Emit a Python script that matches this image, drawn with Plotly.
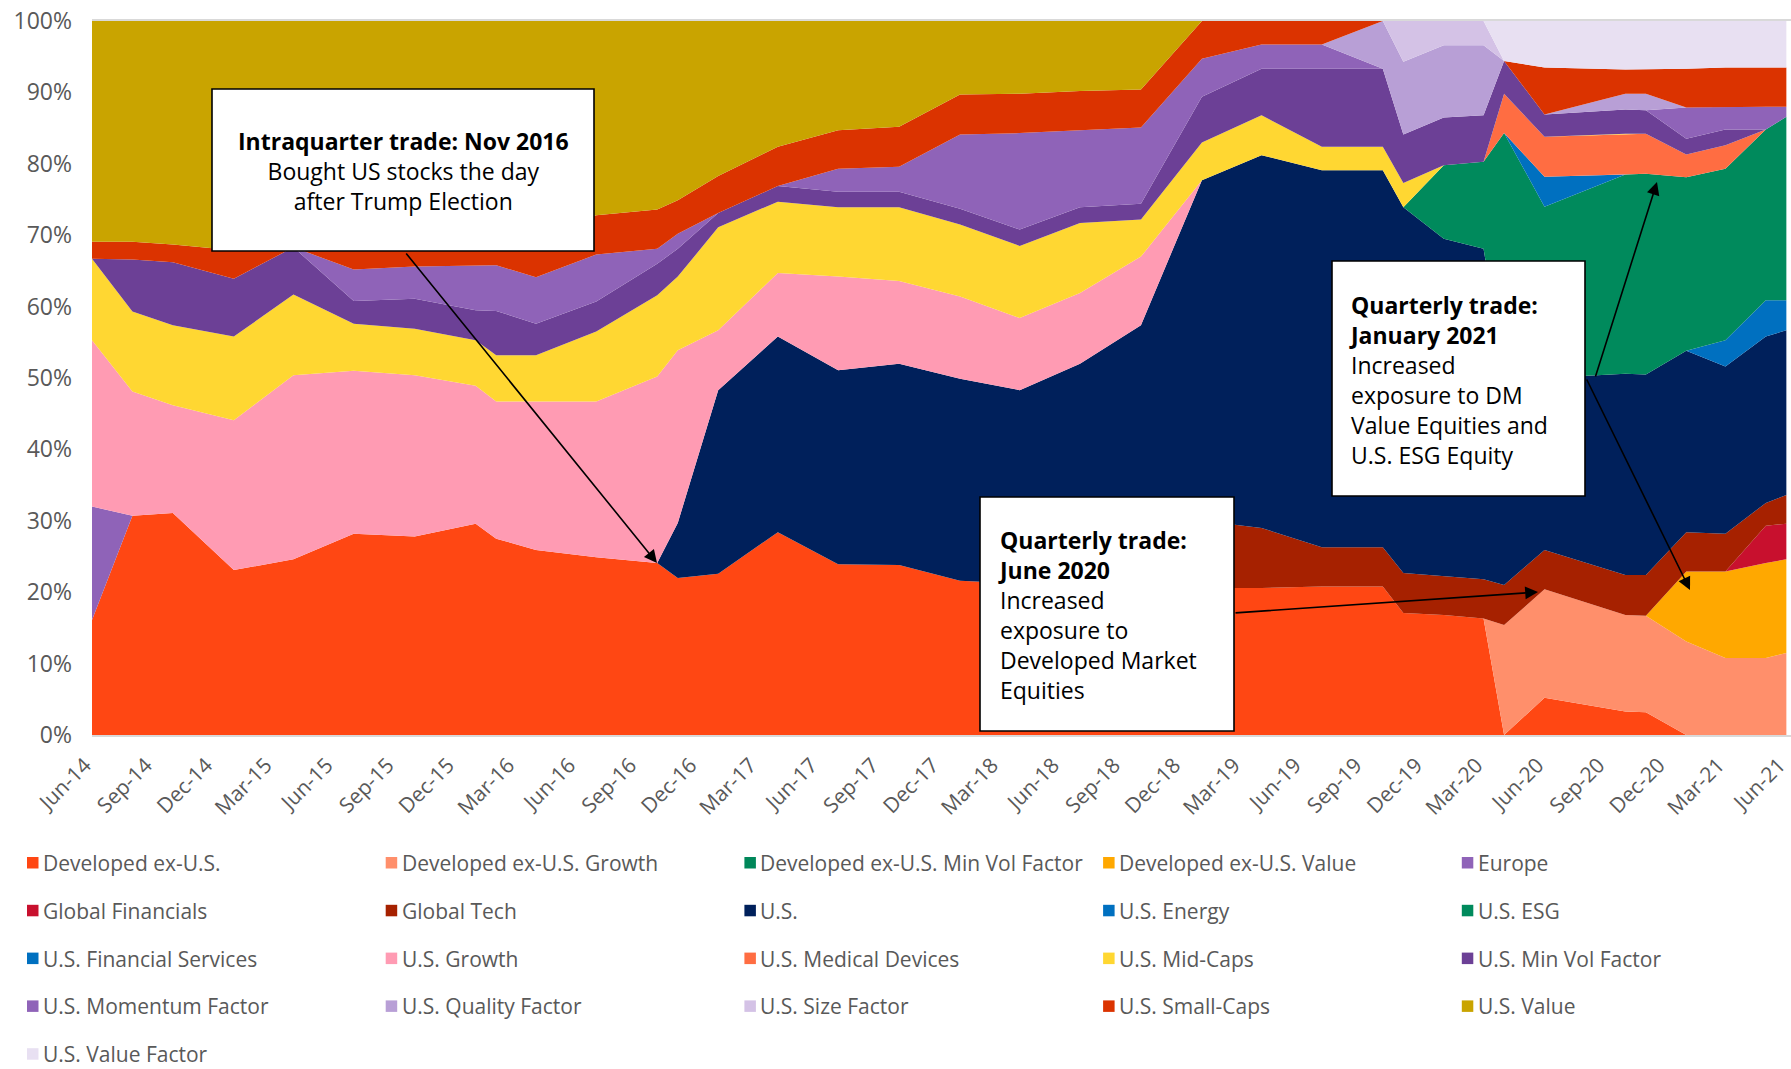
import plotly.graph_objects as go

# ---------------- data ----------------
DATES = [
    "2014-06-01", "2014-08-01", "2014-10-01", "2015-01-01", "2015-04-01", "2015-07-01",
    "2015-10-01", "2016-01-01", "2016-02-01", "2016-04-01", "2016-07-01", "2016-10-01",
    "2016-11-01", "2017-01-01", "2017-04-01", "2017-07-01", "2017-10-01", "2018-01-01",
    "2018-04-01", "2018-07-01", "2018-10-01", "2019-01-01", "2019-04-01", "2019-07-01",
    "2019-10-01", "2019-11-01", "2020-01-01", "2020-03-01", "2020-04-01", "2020-06-01",
    "2020-10-01", "2020-11-01", "2021-01-01", "2021-03-01", "2021-05-01", "2021-06-01",
]

developed_ex_us = [16.1, 30.7, 31.1, 23.1, 24.6, 28.2, 27.8, 29.6, 27.5, 25.9, 24.9, 24.1,
                   22.0, 22.6, 28.4, 23.9, 23.8, 21.6, 21.2, 21.0, 20.8, 20.6, 20.6, 20.8,
                   20.8, 17.1, 16.8, 16.3, 0, 5.2, 3.3, 3.2, 0, 0, 0, 0]
developed_ex_us_growth = [0] * 28 + [15.4, 15.2, 13.5, 13.5, 13.1, 10.8, 10.8, 11.5]
developed_ex_us_min_vol = [0] * 36
developed_ex_us_value = [0] * 32 + [9.8, 12.1, 13.3, 13.1]
europe = [15.9] + [0] * 35
global_financials = [0] * 34 + [5.2, 5.0]
global_tech = [0] * 21 + [9.4, 8.4, 5.5, 5.5, 5.6, 5.4, 5.5, 5.6, 5.5, 5.6, 5.7, 5.5, 5.3, 3.2, 4.0]
us = [0] * 12 + [7.7, 25.7, 27.4, 27.2, 28.2, 28.3, 27.1, 31.0, 36.6, 47.7, 52.2, 52.8,
                 52.8, 51.2, 47.3, 46.3, 30.0, 24.1, 28.2, 28.1, 25.4, 23.4, 23.3, 23.1]
us_energy = [0] * 33 + [3.7, 5.1, 4.2]
us_esg = [0] * 26 + [10.3, 12.2, 33.3, 24.0, 27.9, 28.1, 24.3, 24.0, 23.9, 25.7]
us_financial_services = [0] * 29 + [4.2] + [0] * 6
us_growth = [23.3, 17.4, 15.1, 21.0, 25.8, 22.8, 22.6, 19.3, 19.2, 20.8, 21.8, 26.1,
             24.2, 8.4, 8.9, 13.1, 11.6, 11.5, 10.1, 9.9, 9.6] + [0] * 15
us_medical_devices = [0] * 28 + [5.5, 5.6, 5.7, 5.6, 3.2, 3.3, 0, 0]
us_mid_caps = [11.4, 11.2, 11.2, 11.7, 11.3, 6.6, 6.5, 6.4, 6.5, 6.5, 9.8, 11.4,
               10.3, 14.4, 10.0, 9.7, 10.3, 10.1, 10.1, 9.8, 5.2, 5.3, 5.6, 3.3,
               3.3, 3.4] + [0] * 10
us_min_vol = [0, 7.3, 8.8, 8.1, 6.6, 3.2, 4.2, 4.2, 6.2, 4.4, 4.2, 4.4,
              3.9, 2.0, 2.2, 2.2, 2.2, 2.2, 2.3, 2.2, 2.2, 6.4, 6.5, 10.9,
              10.9, 6.8, 6.7, 6.5, 4.6, 3.1, 3.4, 3.3, 2.2, 2.2, 0, 0]
us_momentum = [0, 0, 0, 0, 0, 4.4, 4.5, 6.3, 6.4, 6.5, 6.6, 2.1,
               2.1, 0, 0, 3.2, 3.5, 10.4, 13.5, 10.8, 10.7, 5.3, 3.4, 3.4,
               0, 0, 0, 0, 0, 0, 0, 0, 4.4, 3.2, 3.2, 1.4]
us_quality = [0] * 24 + [6.7, 10.2, 10.1, 9.8, 0, 0, 2.2, 2.3, 0, 0, 0, 0]
us_size = [0] * 25 + [5.7, 3.4, 3.4] + [0] * 8
us_small_caps = [2.4, 2.5, 2.5, 4.0, 4.0, 5.5, 5.5, 5.5, 5.5, 5.5, 5.5, 5.5,
                 4.7, 5.2, 5.5, 5.4, 5.6, 5.6, 5.5, 5.5, 5.3, 5.3, 3.3, 3.3,
                 0, 0, 0, 0, 0, 6.6, 3.4, 3.4, 5.4, 5.5, 5.5, 5.5]
us_value = [30.9, 30.9, 31.3, 32.1, 27.7, 29.3, 28.9, 28.7, 28.7, 30.4, 27.2, 26.4,
            25.1, 21.7, 17.6, 15.3, 14.8, 10.3, 10.2, 9.8, 9.6] + [0] * 15
us_value_factor = [0] * 28 + [5.6, 6.5, 6.8, 6.8, 6.7, 6.5, 6.5, 6.5]

SERIES = [
    ("Developed ex-U.S.", developed_ex_us, "#FF4713"),
    ("Developed ex-U.S. Growth", developed_ex_us_growth, "#FF8F6B"),
    ("Developed ex-U.S. Min Vol Factor", developed_ex_us_min_vol, "#00875A"),
    ("Developed ex-U.S. Value", developed_ex_us_value, "#FFA800"),
    ("Europe", europe, "#8F63B8"),
    ("Global Financials", global_financials, "#C8102E"),
    ("Global Tech", global_tech, "#A62100"),
    ("U.S.", us, "#00205B"),
    ("U.S. Energy", us_energy, "#0070C0"),
    ("U.S. ESG", us_esg, "#008A5C"),
    ("U.S. Financial Services", us_financial_services, "#0070C0"),
    ("U.S. Growth", us_growth, "#FF9BB3"),
    ("U.S. Medical Devices", us_medical_devices, "#FF6D42"),
    ("U.S. Mid-Caps", us_mid_caps, "#FFD732"),
    ("U.S. Min Vol Factor", us_min_vol, "#6C4096"),
    ("U.S. Momentum Factor", us_momentum, "#8F63B8"),
    ("U.S. Quality Factor", us_quality, "#B89FD6"),
    ("U.S. Size Factor", us_size, "#D4C2E6"),
    ("U.S. Small-Caps", us_small_caps, "#DB3300"),
    ("U.S. Value", us_value, "#C9A400"),
    ("U.S. Value Factor", us_value_factor, "#E8E0F2"),
]

# ---------------- layout geometry (pixels) ----------------
W, H = 1791, 1069
PL, PR, PT, PB = 92, 1791, 21, 735


def px(x):
    return (x - PL) / (PR - PL)


def py(y):
    return (PB - y) / (PB - PT)


FONT = "Open Sans"
GRAY = "#595959"

fig = go.Figure()
for i, (name, vals, color) in enumerate(SERIES):
    fig.add_trace(go.Scatter(
        x=DATES, y=vals, name=name, mode="lines",
        stackgroup="one", groupnorm="percent" if i == 0 else None,
        line=dict(width=0, color=color), fillcolor=color,
        showlegend=False, hoverinfo="x+y+name",
    ))

shapes = []
annotations = []

# annotation boxes
boxes = [(212, 89, 594, 251), (980, 497, 1234, 731), (1332, 261, 1585, 496)]
for x0, y0, x1, y1 in boxes:
    shapes.append(dict(type="rect", xref="paper", yref="paper",
                       x0=px(x0), x1=px(x1), y0=py(y1), y1=py(y0),
                       fillcolor="white", line=dict(color="black", width=1.6),
                       layer="above"))

box_font = dict(family=FONT, size=23, color="black")
annotations.append(dict(
    xref="paper", yref="paper", x=px(403), y=py(171), xanchor="center", yanchor="middle",
    align="center", showarrow=False, font=box_font,
    text="<b>Intraquarter trade: Nov 2016</b><br>Bought US stocks the day<br>after Trump Election"))
annotations.append(dict(
    xref="paper", yref="paper", x=px(996), y=py(615), xanchor="left", yanchor="middle",
    align="left", showarrow=False, font=box_font,
    text="<b>Quarterly trade:<br>June 2020</b><br>Increased<br>exposure to<br>Developed Market<br>Equities"))
annotations.append(dict(
    xref="paper", yref="paper", x=px(1347), y=py(380), xanchor="left", yanchor="middle",
    align="left", showarrow=False, font=box_font,
    text="<b>Quarterly trade:<br>January 2021</b><br>Increased<br>exposure to DM<br>Value Equities and<br>U.S. ESG Equity"))

# arrows: (tail_x, tail_y, tip_x, tip_y)
arrows = [(405, 252, 657, 563), (1234, 613, 1538, 592),
          (1595, 378, 1657, 182), (1586, 378, 1690, 590)]
for tx, ty, hx, hy in arrows:
    annotations.append(dict(
        xref="paper", yref="paper", x=px(hx), y=py(hy),
        axref="pixel", ayref="pixel", ax=tx - hx, ay=ty - hy,
        text="", showarrow=True, arrowhead=2, arrowsize=1.6, arrowwidth=1.6,
        arrowcolor="black", standoff=0, startstandoff=0))

# manual legend, 5 columns
for i, (name, vals, color) in enumerate(SERIES):
    col, row = i % 5, i // 5
    sx = 27 + col * 358.7
    cy = 863 + row * 47.8
    shapes.append(dict(type="rect", xref="paper", yref="paper",
                       x0=px(sx), x1=px(sx + 11.5), y0=py(cy + 5.5), y1=py(cy - 6),
                       fillcolor=color, line=dict(width=0)))
    annotations.append(dict(
        xref="paper", yref="paper", x=px(sx + 14), y=py(cy), xanchor="left", yanchor="middle",
        showarrow=False, text=name, font=dict(family=FONT, size=21, color=GRAY)))

fig.update_layout(
    width=W, height=H,
    margin=dict(l=PL, r=W - PR, t=PT, b=H - PB, pad=0),
    paper_bgcolor="white", plot_bgcolor="white",
    font=dict(family=FONT, color=GRAY),
    showlegend=False,
    shapes=shapes, annotations=annotations,
    xaxis=dict(
        type="date", range=["2014-06-01", "2021-06-08"],
        tick0="2014-06-01", dtick="M3", tickformat="%b-%y", tickangle=-45,
        tickfont=dict(family=FONT, size=21, color=GRAY),
        showgrid=False, zeroline=False, showline=True, mirror=True,
        linecolor="#D9D9D9", linewidth=1.5, ticks="", ticklabelstandoff=8,
        ticklabelshift=-7, ticklabeloverflow="allow",
        automargin=False, fixedrange=True,
    ),
    yaxis=dict(
        range=[0, 100], dtick=10, ticksuffix="%",
        tickfont=dict(family=FONT, size=23, color=GRAY),
        showgrid=False, zeroline=False, showline=False, ticks="",
        ticklabelstandoff=19, automargin=False, fixedrange=True,
    ),
)

fig.write_html(
    "out.html",
    config={"displayModeBar": False},
    post_script="document.body.style.margin='0';document.body.style.overflow='hidden';",
)
